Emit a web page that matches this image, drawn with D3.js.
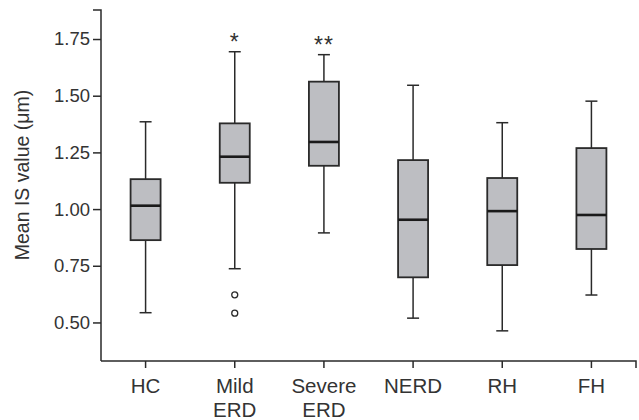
<!DOCTYPE html>
<html>
<head>
<meta charset="utf-8">
<script src="https://cdn.jsdelivr.net/npm/d3@7"></script>
<style>
  body { margin: 0; background: #fff; }
  svg { display: block; font-family: "Liberation Sans", Arial, sans-serif; }
</style>
</head>
<body>
<div id="chart"></div>
<script>
// group labels (second line where the label wraps)
const categories = ['HC', 'Mild ERD', 'Severe ERD', 'NERD', 'RH', 'FH'];
const labelLines = [['HC'], ['Mild', 'ERD'], ['Severe', 'ERD'], ['NERD'], ['RH'], ['FH']];

// box plot stats
const whiskerLow  = [0.543, 0.737, 0.895, 0.519, 0.463, 0.621];
const q1          = [0.863, 1.116, 1.191, 0.699, 0.753, 0.824];
const median      = [1.015, 1.231, 1.296, 0.953, 0.991, 0.974];
const q3          = [1.132, 1.378, 1.562, 1.216, 1.137, 1.269];
const whiskerHigh = [1.385, 1.694, 1.681, 1.546, 1.381, 1.476];
const outliers    = [[], [0.622, 0.541], [], [], [], []];
const signif      = ['', '*', '**', '', '', ''];

const yTicks = [0.50, 0.75, 1.00, 1.25, 1.50, 1.75];

const W = 639, H = 420;
const svg = d3.select('#chart').append('svg').attr('width', W).attr('height', H);

const x = d3.scaleBand().domain(categories).range([101, 636]).padding(0);
const y = d3.scaleLinear().domain([0.33, 1.878]).range([361, 10]);

const INK = '#2a2a2a';
const FILL = '#bdbec2';
const boxW = 30, capW = 12;

// y axis
const yAxis = svg.append('g').attr('transform', 'translate(101,0)')
  .call(d3.axisLeft(y).tickValues(yTicks).tickFormat(d3.format('.2f')).tickSize(8).tickPadding(3));
yAxis.select('.domain').remove();
yAxis.selectAll('line').attr('stroke', INK).attr('stroke-width', 1.5);
yAxis.selectAll('text').attr('fill', '#333').style('font-size', '18.5px')
  .style('font-family', '"Liberation Sans", Arial, sans-serif');
svg.append('path')
  .attr('d', `M93,${y.range()[1]}H101V${y.range()[0]}`)
  .attr('fill', 'none').attr('stroke', INK).attr('stroke-width', 1.5);

// x axis
const x0 = x.range()[0], x1 = x.range()[1], yb = y.range()[0];
svg.append('path')
  .attr('d', `M${x0},${yb}H${x1}V${yb + 7}`)
  .attr('fill', 'none').attr('stroke', INK).attr('stroke-width', 1.5);

const cx = d => x(d) + x.bandwidth() / 2;

const xt = svg.append('g').selectAll('g').data(categories).enter().append('g')
  .attr('transform', d => `translate(${cx(d)},${yb})`);
xt.append('line').attr('y2', 7).attr('stroke', INK).attr('stroke-width', 1.5);
xt.append('text')
  .attr('text-anchor', 'middle').attr('fill', '#333').style('font-size', '20.5px')
  .each(function(d, i) {
    const t = d3.select(this);
    labelLines[i].forEach((s, j) => {
      t.append('tspan').attr('x', 0).attr('y', 32 + j * 24).text(s);
    });
  });

// y label
svg.append('text')
  .attr('transform', 'translate(29,175) rotate(-90)')
  .attr('text-anchor', 'middle').attr('fill', '#333').style('font-size', '19.5px')
  .text('Mean IS value (μm)');

// boxes
const box = svg.append('g').selectAll('g').data(categories).enter().append('g')
  .attr('transform', d => `translate(${cx(d)},0)`);

box.append('line')
  .attr('y1', (d, i) => y(whiskerHigh[i])).attr('y2', (d, i) => y(q3[i]))
  .attr('stroke', INK).attr('stroke-width', 1.5);
box.append('line')
  .attr('y1', (d, i) => y(q1[i])).attr('y2', (d, i) => y(whiskerLow[i]))
  .attr('stroke', INK).attr('stroke-width', 1.5);
box.append('line')
  .attr('x1', -capW / 2).attr('x2', capW / 2)
  .attr('y1', (d, i) => y(whiskerHigh[i])).attr('y2', (d, i) => y(whiskerHigh[i]))
  .attr('stroke', INK).attr('stroke-width', 1.5);
box.append('line')
  .attr('x1', -capW / 2).attr('x2', capW / 2)
  .attr('y1', (d, i) => y(whiskerLow[i])).attr('y2', (d, i) => y(whiskerLow[i]))
  .attr('stroke', INK).attr('stroke-width', 1.5);
box.append('rect')
  .attr('x', -boxW / 2).attr('width', boxW)
  .attr('y', (d, i) => y(q3[i])).attr('height', (d, i) => y(q1[i]) - y(q3[i]))
  .attr('fill', FILL).attr('stroke', INK).attr('stroke-width', 1.8);
box.append('line')
  .attr('x1', -boxW / 2).attr('x2', boxW / 2)
  .attr('y1', (d, i) => y(median[i])).attr('y2', (d, i) => y(median[i]))
  .attr('stroke', '#1a1a1a').attr('stroke-width', 2.6);

// outliers
box.each(function(d, i) {
  d3.select(this).selectAll('circle').data(outliers[i]).enter().append('circle')
    .attr('cy', v => y(v)).attr('r', 3)
    .attr('fill', '#fff').attr('stroke', INK).attr('stroke-width', 1.3);
});

// significance marks
box.append('text')
  .attr('text-anchor', 'middle').attr('y', (d, i) => y(whiskerHigh[i]) - 2)
  .attr('fill', '#333').style('font-size', '23px').style('letter-spacing', '1px')
  .text((d, i) => signif[i]);
</script>
</body>
</html>
